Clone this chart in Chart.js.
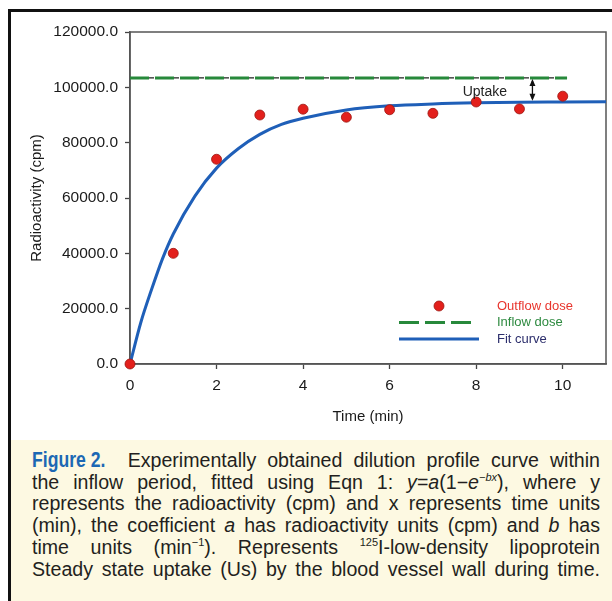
<!DOCTYPE html>
<html>
<head>
<meta charset="utf-8">
<script src="https://cdn.jsdelivr.net/npm/chart.js@4.4.1/dist/chart.umd.min.js"></script>
<style>
  html, body { margin: 0; padding: 0; background: #fff; }
  body { width: 612px; height: 601px; overflow: hidden; position: relative; }
  #frame {
    position: absolute; left: 8px; top: 9px; width: 601px; height: 589px;
    border-left: 3px solid #111; border-top: 3px solid #111;
  }
  #plot { position: relative; width: 601px; height: 428px; }
  #caption {
    background: #fdf9e2; height: 161px; box-sizing: border-box;
    padding: 9px 12px 0 21px;
    font-family: "Liberation Sans", Arial, sans-serif; font-size: 19.6px; line-height: 21.7px; color: #231f20;
  }
  #caption div { text-align: justify; text-align-last: justify; white-space: nowrap; }
  #caption .fig {
    display: inline-block; transform: scaleX(0.8); transform-origin: left center;
    font-weight: bold; color: #1c68b4; font-size: 22px; margin-right: 4px;
  }
  #caption sup { font-size: 11px; line-height: 0; vertical-align: 8px; }
</style>
</head>
<body>
<div id="frame">
  <div id="plot"><canvas id="myChart" width="601" height="428"></canvas></div>
  <div id="caption">
    <div><span class="fig">Figure&nbsp;2.</span>Experimentally obtained dilution profile curve within</div>
    <div>the inflow period, fitted using Eqn 1: <i>y</i>=<i>a</i>(1&minus;<i>e</i><sup><i>&minus;bx</i></sup>), where y</div>
    <div>represents the radioactivity (cpm) and x represents time units</div>
    <div>(min), the coefficient <i>a</i> has radioactivity units (cpm) and <i>b</i> has</div>
    <div>time units (min<sup>&minus;1</sup>). Represents <sup>125</sup>I-low-density lipoprotein</div>
    <div>Steady state uptake (Us) by the blood vessel wall during time.</div>
  </div>
</div>
<script>
// values
const times = [0, 1, 2, 3, 4, 5, 6, 7, 8, 9, 10];
const outflowDose = [0, 40000, 74000, 90000, 92100, 89200, 91900, 90600, 94700, 92200, 96800];

const inflowTimes = [0, 10.1];
const inflowDose = [103400, 103400];

const fitTimes = [0, 0.25, 0.5, 0.75, 1, 1.5, 2, 2.5, 3, 3.5, 4, 5, 6, 7, 8, 9, 10, 11];
const fitCurve = [0, 15000, 27000, 38000, 47000, 60700, 70800, 77800, 83000, 86600, 88800, 91800, 93300, 94000, 94400, 94600, 94700, 94800];

const xTicks = [0, 2, 4, 6, 8, 10];
const yTicks = [0, 20000, 40000, 60000, 80000, 100000, 120000];

const uptakeAt = 9.3;
const uptakeLabelAt = 8.2;

const tickFont = { family: 'Liberation Sans, Arial, sans-serif', size: 15.5 };
const titleFont = { family: 'Liberation Sans, Arial, sans-serif', size: 15 };

// box round the plot area
const framePlugin = {
    id: 'frame',
    beforeDatasetsDraw(chart) {
        const a = chart.chartArea;
        const c = chart.ctx;
        c.save();
        c.strokeStyle = '#555';
        c.lineWidth = 1.5;
        c.strokeRect(a.left, a.top, a.right - a.left, a.bottom - a.top);
        c.restore();
    }
};

// uptake arrow + text
const uptakePlugin = {
    id: 'uptake',
    afterDatasetsDraw(chart) {
        const xs = chart.scales.x, ys = chart.scales.y, c = chart.ctx;
        const x = xs.getPixelForValue(uptakeAt);
        const y1 = ys.getPixelForValue(inflowDose[0]);
        const y2 = ys.getPixelForValue(fitCurve[fitCurve.length - 1]);
        c.save();
        c.strokeStyle = '#111';
        c.fillStyle = '#111';
        c.lineWidth = 1.3;
        c.beginPath();
        c.moveTo(x, y1 + 3);
        c.lineTo(x, y2 - 3);
        c.stroke();
        c.beginPath();
        c.moveTo(x, y1 + 1); c.lineTo(x - 3, y1 + 8); c.lineTo(x + 3, y1 + 8); c.closePath();
        c.fill();
        c.beginPath();
        c.moveTo(x, y2 - 1); c.lineTo(x - 3, y2 - 8); c.lineTo(x + 3, y2 - 8); c.closePath();
        c.fill();
        c.font = '14px Liberation Sans, Arial, sans-serif';
        c.textAlign = 'center';
        c.textBaseline = 'middle';
        c.fillStyle = '#222';
        c.fillText('Uptake', xs.getPixelForValue(uptakeLabelAt), (y1 + y2) / 2 + 2);
        c.restore();
    }
};

// legend drawn inside the plot, lower right
const legendPlugin = {
    id: 'innerLegend',
    afterDraw(chart) {
        const a = chart.chartArea, c = chart.ctx;
        const lx0 = a.right - 207, lx1 = a.right - 127, tx = a.right - 109;
        const rows = [a.bottom - 58, a.bottom - 41.5, a.bottom - 25];
        c.save();
        // marker
        c.beginPath();
        c.arc(a.right - 167, rows[0], 5, 0, Math.PI * 2);
        c.fillStyle = '#e3201c';
        c.fill();
        c.strokeStyle = '#9c1712';
        c.lineWidth = 0.8;
        c.stroke();
        // dashed
        c.strokeStyle = '#27893b';
        c.lineWidth = 3;
        c.setLineDash([20, 6]);
        c.beginPath();
        c.moveTo(lx0, rows[1]); c.lineTo(lx0 + 72, rows[1]);
        c.stroke();
        c.setLineDash([]);
        c.strokeStyle = '#1f5fb8';
        c.beginPath();
        c.moveTo(lx0, rows[2]); c.lineTo(lx1, rows[2]);
        c.stroke();
        c.font = '13px Liberation Sans, Arial, sans-serif';
        c.textBaseline = 'middle';
        c.textAlign = 'left';
        c.fillStyle = '#e8352d'; c.fillText('Outflow dose', tx, rows[0]);
        c.fillStyle = '#2e8a40'; c.fillText('Inflow dose', tx, rows[1]);
        c.fillStyle = '#2c2e6c'; c.fillText('Fit curve', tx, rows[2]);
        c.restore();
    }
};

const ctx = document.getElementById('myChart').getContext('2d');
const myChart = new Chart(ctx, {
    type: 'scatter',
    data: {
        datasets: [
            {
                label: 'Fit curve',
                data: fitTimes.map((t, i) => ({ x: t, y: fitCurve[i] })),
                showLine: true,
                borderColor: '#1f5fb8',
                borderWidth: 3,
                pointRadius: 0,
                cubicInterpolationMode: 'monotone',
                clip: false,
                order: 3
            },
            {
                label: 'Inflow dose',
                data: inflowTimes.map((t, i) => ({ x: t, y: inflowDose[i] })),
                showLine: true,
                borderColor: '#27893b',
                borderWidth: 3,
                borderDash: [19, 6],
                pointRadius: 0,
                order: 2
            },
            {
                label: 'Inflow dose ticks',
                data: inflowTimes.map((t, i) => ({ x: t, y: inflowDose[i] })),
                showLine: true,
                borderColor: '#222',
                borderWidth: 1.2,
                borderDash: [5, 20],
                borderDashOffset: -19,
                pointRadius: 0,
                order: 2
            },
            {
                label: 'Outflow dose',
                data: times.map((t, i) => ({ x: t, y: outflowDose[i] })),
                pointRadius: 5,
                pointBackgroundColor: '#e3201c',
                pointBorderColor: '#9c1712',
                pointBorderWidth: 0.8,
                clip: false,
                order: 1
            }
        ]
    },
    options: {
        responsive: false,
        animation: false,
        layout: { padding: { top: 20, right: 6, left: 0, bottom: 0 } },
        plugins: {
            legend: { display: false },
            tooltip: { enabled: false }
        },
        scales: {
            x: {
                type: 'linear',
                min: 0,
                max: 11,
                afterBuildTicks: s => { s.ticks = xTicks.map(v => ({ value: v })); },
                afterFit: s => { s.height = 76; },
                grid: { drawOnChartArea: false, drawTicks: true, tickLength: 5, tickColor: '#444', tickWidth: 1.3 },
                border: { color: '#555', width: 1.5 },
                ticks: { font: tickFont, color: '#1a1a1a', padding: 7, maxRotation: 0 },
                title: { display: true, text: 'Time (min)', font: titleFont, color: '#1a1a1a', padding: { bottom: 14 } }
            },
            y: {
                min: 0,
                max: 120000,
                afterBuildTicks: s => { s.ticks = yTicks.map(v => ({ value: v })); },
                afterFit: s => { s.width = 119; },
                grid: { drawOnChartArea: false, drawTicks: true, tickLength: 5, tickColor: '#444', tickWidth: 1.3 },
                border: { color: '#555', width: 1.5 },
                ticks: { font: tickFont, color: '#1a1a1a', padding: 7, callback: v => v.toFixed(1) },
                title: { display: true, text: 'Radioactivity (cpm)', font: titleFont, color: '#1a1a1a', padding: { top: 17 } }
            }
        }
    },
    plugins: [framePlugin, uptakePlugin, legendPlugin]
});
</script>
</body>
</html>
